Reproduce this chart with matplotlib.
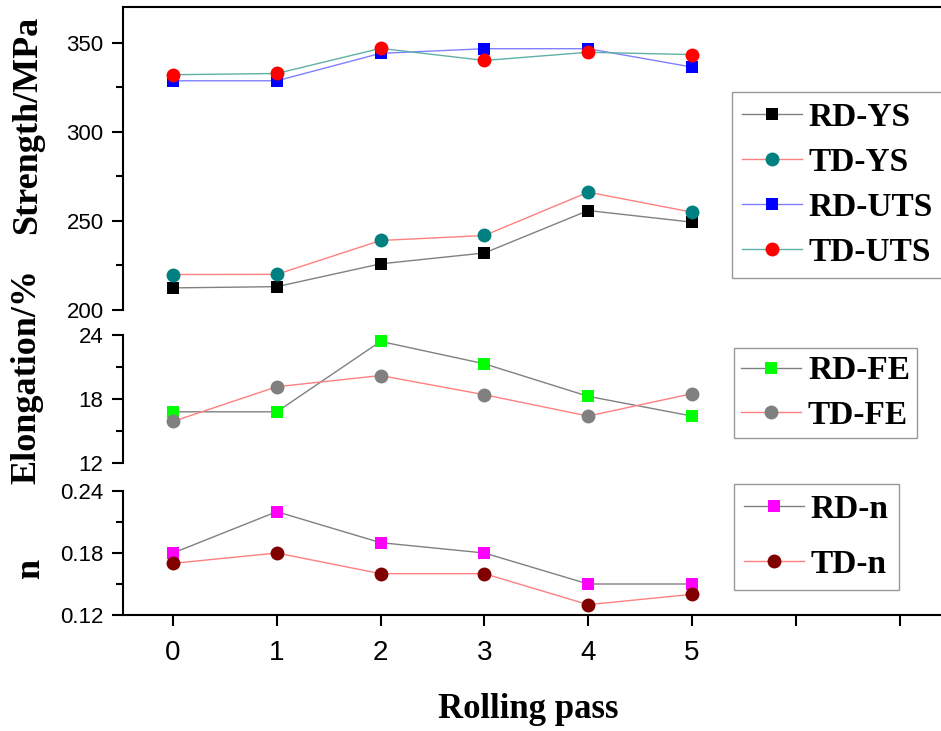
import matplotlib
matplotlib.use('Agg')
import matplotlib.pyplot as plt
import numpy as np

passes = [0, 1, 2, 3, 4, 5]

rd_ys = [212.4, 213.1, 225.9, 232.0, 255.8, 249.3]
td_ys = [219.9, 220.0, 239.0, 241.8, 266.1, 254.9]
rd_uts = [328.6, 328.6, 344.0, 346.6, 346.6, 336.3]
td_uts = [332.0, 332.7, 346.8, 340.0, 344.6, 343.3]

rd_fe = [16.8, 16.8, 23.4, 21.3, 18.25, 16.4]
td_fe = [15.9, 19.15, 20.2, 18.4, 16.4, 18.5]

rd_n = [0.18, 0.22, 0.19, 0.18, 0.15, 0.15]
td_n = [0.17, 0.18, 0.16, 0.16, 0.13, 0.14]

xtick_labels = ['0', '1', '2', '3', '4', '5', '', '']

serif = 'Liberation Serif'
sans = 'Liberation Sans'

fig = plt.figure(figsize=(9.41, 7.31), dpi=100)
W, H = 941.0, 731.0

def box(l, t, r, b):
    return [l / W, 1 - b / H, (r - l) / W, (b - t) / H]

ax1 = fig.add_axes(box(123, 7, 941, 310))
ax2 = fig.add_axes(box(123, 335, 941, 463))
ax3 = fig.add_axes(box(123, 491, 941, 615))

x0 = (123 - 173) / 103.8
x1 = (941 - 173) / 103.8
for ax in (ax1, ax2, ax3):
    ax.set_xlim(x0, x1)
    ax.spines['right'].set_visible(False)
    for s in ax.spines.values():
        s.set_linewidth(1.5)
    ax.tick_params(axis='y', which='major', direction='out', length=8, width=1.5,
                   pad=6, labelsize=16)
    ax.tick_params(axis='y', which='minor', direction='out', length=5, width=1.5)

ax1.spines['bottom'].set_visible(False)
ax2.spines['top'].set_visible(False)
ax2.spines['bottom'].set_visible(False)
ax3.spines['top'].set_visible(False)
ax1.set_xticks([])
ax2.set_xticks([])

mk = dict(markersize=9, linewidth=1.0, markeredgewidth=0)
mc = dict(markersize=10, linewidth=1.0, markeredgewidth=0)

# strength
ax1.plot(passes, rd_ys, color='#808080', marker='s', markerfacecolor='black', label='RD-YS', **mk)
ax1.plot(passes, td_ys, color='#ff8080', marker='o', markerfacecolor='#008080', label='TD-YS', **mc)
ax1.plot(passes, rd_uts, color='#8080ff', marker='s', markerfacecolor='#0000ff', label='RD-UTS', **mk)
ax1.plot(passes, td_uts, color='#60b0a8', marker='o', markerfacecolor='#ff0000', label='TD-UTS', **mc)
ax1.set_ylim(200, 370)
ax1.set_yticks([200, 250, 300, 350])
ax1.set_yticks([225, 275, 325], minor=True)

# elongation
ax2.plot(passes, rd_fe, color='#808080', marker='s', markerfacecolor='#00ff00', label='RD-FE', **mk)
ax2.plot(passes, td_fe, color='#ff8080', marker='o', markerfacecolor='#808080', label='TD-FE', **mc)
ax2.set_ylim(12, 24)
ax2.set_yticks([12, 18, 24])
ax2.set_yticks([15, 21], minor=True)

# n value
ax3.plot(passes, rd_n, color='#808080', marker='s', markerfacecolor='#ff00ff', label='RD-n', **mk)
ax3.plot(passes, td_n, color='#ff8080', marker='o', markerfacecolor='#800000', label='TD-n', **mc)
ax3.set_ylim(0.12, 0.24)
ax3.set_yticks([0.12, 0.18, 0.24])
ax3.set_yticks([0.15, 0.21], minor=True)
ax3.set_xticks(range(8))
ax3.set_xticklabels(xtick_labels, fontfamily=sans)
ax3.tick_params(axis='x', direction='out', length=8, width=1.5, pad=10, labelsize=20)

for ax in (ax1, ax2, ax3):
    for lab in ax.get_yticklabels():
        lab.set_fontfamily(sans)

leg_font = {'family': serif, 'weight': 'bold', 'size': 24}

def add_legend(ax, l, t, spacing, bpad):
    lg = ax.legend(loc='upper left', bbox_to_anchor=(l / W, 1 - t / H),
                   bbox_transform=fig.transFigure, borderaxespad=0,
                   prop=leg_font, fancybox=False, frameon=True,
                   handlelength=1.8, handletextpad=0.2, labelspacing=spacing,
                   borderpad=bpad)
    lg.get_frame().set_edgecolor('#808080')
    lg.get_frame().set_linewidth(1.0)
    return lg

add_legend(ax1, 732, 92, 0.42, 0.3)
add_legend(ax2, 734, 348, 0.40, 0.22)
add_legend(ax3, 734, 484, 0.72, 0.3)

lab_font = dict(family=serif, weight='bold', size=26)
fig.text(0.029, 1 - 125 / H, 'Strength/MPa', rotation=90, ha='center', va='center', **lab_font)
fig.text(0.029, 1 - 377 / H, 'Elongation/%', rotation=90, ha='center', va='center', **lab_font)
fig.text(0.032, 1 - 568 / H, 'n', rotation=90, ha='center', va='center', **lab_font)
fig.text(528 / W, 1 - 709 / H, 'Rolling pass', ha='center', va='center',
         family=serif, weight='bold', size=25)

fig.savefig('out.png', dpi=100)
